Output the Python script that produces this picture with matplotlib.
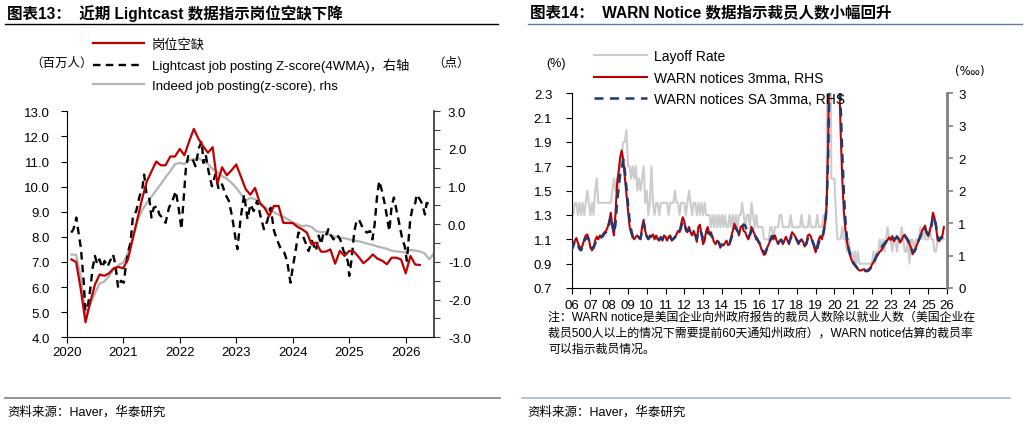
import numpy as np
import matplotlib
matplotlib.use('Agg')
import matplotlib.pyplot as plt
from matplotlib.lines import Line2D
from matplotlib.ticker import MultipleLocator, FixedLocator, FormatStrFormatter

plt.rcParams['font.family'] = ['Liberation Sans', 'Noto Sans CJK SC']
plt.rcParams['axes.unicode_minus'] = False

W, H = 1029, 427

# ---------------- 图表13 data (monthly from Jan 2020, month end) ----------------
openings = [  # 岗位空缺, 百万人
    7.1, 7.0, 5.9, 4.6, 5.4, 6.1, 6.5, 6.45, 6.55, 6.75, 6.8, 6.75,
    7.1, 7.9, 8.7, 9.5, 10.2, 10.6, 11.0, 10.85, 10.85, 11.2, 11.2, 11.5,
    11.25, 11.8, 12.3, 11.9, 11.6, 11.35, 11.57, 10.12, 10.77, 10.45, 10.65, 10.88,
    10.4, 9.9, 9.68, 9.95, 9.36, 9.16, 8.83, 9.23, 9.23, 8.56, 8.55, 8.55,
    8.4, 8.3, 8.17, 7.7, 7.77, 7.41, 7.41, 7.5, 6.93, 7.44, 7.24, 7.44,
    7.41, 7.2, 6.95, 7.1, 7.3, 7.13, 7.05, 6.91, 7.17, 7.17, 7.1, 6.55,
    7.24, 6.9, 6.88,
]
indeed = [  # Indeed job posting z-score, rhs
    -0.80, -0.81, -1.40, -2.43, -2.13, -1.83, -1.57, -1.52, -1.37, -1.20, -1.08, -1.02,
    -0.77, -0.37, 0.07, 0.37, 0.57, 0.73, 0.90, 1.07, 1.25, 1.41, 1.60, 1.63,
    1.60, 1.70, 1.73, 1.75, 1.67, 1.60, 1.47, 1.39, 1.28, 1.21, 1.10, 0.97,
    0.80, 0.63, 0.70, 0.67, 0.53, 0.45, 0.39, 0.32, 0.25, 0.20, 0.13, 0.05,
    0.00, -0.05, -0.03, -0.07, -0.18, -0.21, -0.20, -0.30, -0.33, -0.35, -0.37, -0.40,
    -0.43, -0.45, -0.48, -0.52, -0.55, -0.59, -0.62, -0.65, -0.70, -0.72, -0.73, -0.75,
    -0.68, -0.70, -0.72, -0.77, -0.93, -0.77,
]
# Lightcast job posting Z-score (4WMA), dates as decimal years
lightcast_t = [
    2020.08, 2020.12, 2020.17, 2020.20, 2020.25, 2020.30, 2020.33, 2020.38, 2020.42, 2020.46,
    2020.50, 2020.54, 2020.58, 2020.63, 2020.67, 2020.72, 2020.78, 2020.82, 2020.86, 2020.91,
    2020.96, 2021.01, 2021.05, 2021.09, 2021.13, 2021.17, 2021.23, 2021.29, 2021.34, 2021.37,
    2021.41, 2021.46, 2021.50, 2021.54, 2021.60, 2021.64, 2021.69, 2021.75, 2021.81, 2021.87,
    2021.93, 2021.98, 2022.03, 2022.08, 2022.11, 2022.15, 2022.22, 2022.28, 2022.34, 2022.39,
    2022.42, 2022.46, 2022.51, 2022.57, 2022.63, 2022.69, 2022.75, 2022.81, 2022.87, 2022.93,
    2022.99, 2023.02, 2023.08, 2023.14, 2023.20, 2023.25, 2023.31, 2023.37, 2023.43, 2023.49,
    2023.55, 2023.61, 2023.67, 2023.73, 2023.79, 2023.85, 2023.90, 2023.96, 2024.00, 2024.05,
    2024.10, 2024.17, 2024.23, 2024.28, 2024.34, 2024.41, 2024.46, 2024.50, 2024.55, 2024.60,
    2024.63, 2024.68, 2024.72, 2024.78, 2024.84, 2024.90, 2024.94, 2024.98, 2025.00, 2025.04,
    2025.09, 2025.13, 2025.17, 2025.25, 2025.31, 2025.37, 2025.41, 2025.45, 2025.49, 2025.53,
    2025.58, 2025.63, 2025.68, 2025.71, 2025.75, 2025.79, 2025.84, 2025.90, 2025.94, 2025.98,
    2026.02, 2026.08, 2026.12, 2026.17, 2026.19, 2026.25, 2026.29, 2026.34, 2026.37, 2026.42,
]
lightcast_z = [
    -0.22, -0.13, 0.18, -0.13, -0.62, -1.50, -2.30, -2.12, -1.68, -1.15,
    -0.84, -1.06, -0.93, -1.15, -0.97, -1.13, -0.93, -0.80, -1.06, -1.68,
    -1.50, -1.55, -1.06, -0.71, -0.49, 0.18, 0.35, 0.75, 0.97, 1.32,
    0.84, 0.71, 0.18, 0.44, 0.48, 0.26, 0.18, 0.04, 0.44, 0.62,
    0.88, 0.44, -0.13, 0.88, 1.50, 1.81, 1.76, 1.54, 2.03, 2.20,
    1.63, 1.85, 1.41, 1.01, 1.32, 0.93, 1.06, 0.79, 0.62, 0.18,
    -0.40, -0.66, 0.18, 0.79, 0.13, 0.53, 0.35, 0.62, 0.22, -0.13,
    0.09, 0.44, -0.18, -0.44, -0.66, -0.75, -0.97, -1.55, -1.15, -0.71,
    -0.22, -0.27, -0.50, -0.71, -0.44, -0.71, -0.30, -0.53, -0.20, -0.27,
    -0.13, -0.30, -0.40, -0.27, -0.40, -0.71, -0.80, -1.02, -1.37, -0.95,
    -0.18, 0.09, 0.13, -0.13, -0.22, -0.18, -0.40, 0.00, 0.71, 1.15,
    0.88, 0.53, 0.09, -0.18, 0.48, 0.71, 0.35, -0.09, -0.40, -0.57,
    -0.97, 0.13, 0.44, 0.57, 0.79, 0.66, 0.55, 0.26, 0.57, 0.53,
]
years13 = [2020, 2021, 2022, 2023, 2024, 2025, 2026]

# ---------------- 图表14 data (monthly from Jan 2006) ----------------
layoff_rate = [  # %
    1.4, 1.3, 1.4, 1.4, 1.3, 1.4, 1.3, 1.4, 1.3, 1.4, 1.5, 1.4,
    1.3, 1.4, 1.3, 1.5, 1.6, 1.4, 1.4, 1.4, 1.4, 1.4, 1.4, 1.4,
    1.4, 1.4, 1.5, 1.6, 1.5, 1.6, 1.5, 1.7, 1.8, 1.9, 1.9, 2.0,
    1.7, 1.7, 1.6, 1.7, 1.6, 1.7, 1.5, 1.6, 1.5, 1.6, 1.7, 1.4,
    1.5, 1.3, 1.4, 1.7, 1.4, 1.3, 1.4, 1.4, 1.3, 1.4, 1.4, 1.4,
    1.4, 1.4, 1.3, 1.4, 1.4, 1.4, 1.5, 1.4, 1.4, 1.3, 1.4, 1.4,
    1.4, 1.3, 1.4, 1.5, 1.4, 1.3, 1.4, 1.4, 1.3, 1.4, 1.3, 1.4,
    1.3, 1.4, 1.3, 1.3, 1.3, 1.2, 1.3, 1.2, 1.3, 1.2, 1.3, 1.2,
    1.3, 1.2, 1.3, 1.2, 1.2, 1.3, 1.2, 1.3, 1.2, 1.3, 1.2, 1.3,
    1.3, 1.4, 1.3, 1.2, 1.3, 1.3, 1.2, 1.4, 1.3, 1.2, 1.3, 1.2,
    1.2, 1.2, 1.2, 1.1, 1.1, 1.1, 1.1, 1.2, 1.2, 1.1, 1.2, 1.2,
    1.2, 1.3, 1.3, 1.2, 1.2, 1.2, 1.2, 1.2, 1.3, 1.2, 1.2, 1.2,
    1.2, 1.2, 1.2, 1.3, 1.2, 1.2, 1.2, 1.2, 1.3, 1.2, 1.2, 1.2,
    1.2, 1.3, 1.2, 1.2, 1.2, 1.3, 1.2, 1.3, 7.5, 5.9, 1.6, 1.6,
    1.6, 1.3, 1.1, 1.1, 1.1, 1.2, 1.1, 1.1, 1.0, 1.1, 1.0, 1.0,
    0.9, 1.0, 0.9, 1.0, 0.9, 0.9, 0.9, 0.9, 0.9, 0.9, 0.9, 0.9,
    0.9, 1.0, 0.9, 1.0, 1.0, 1.1, 1.0, 1.1, 1.0, 1.1, 1.2, 1.1,
    1.1, 1.0, 1.1, 1.1, 1.0, 1.1, 1.1, 1.2, 1.1, 1.0, 1.0, 1.1,
    0.9, 1.1, 1.1, 1.0, 1.1, 1.1, 1.1, 1.2, 1.1, 1.2, 1.1, 1.1,
    1.1, 1.2, 1.1, 1.1, 1.0, 1.0, 1.1, 1.1, 1.1, 1.1, 1.1,
]
warn_3mma = [  # ‱, RHS
    0.62, 0.675, 0.73, 0.77, 0.69, 0.64, 0.60, 0.66, 0.75, 0.81, 0.825, 0.75,
    0.62, 0.58, 0.62, 0.73, 0.79, 0.75, 0.81, 0.79, 0.825, 0.86, 0.88, 0.94,
    1.03, 1.16, 0.94, 0.81, 1.14, 1.59, 1.80, 2.01, 2.12, 1.97, 1.70, 1.45,
    1.20, 0.95, 0.85, 0.78, 0.75, 0.79, 0.81, 0.77, 0.75, 0.94, 1.05, 0.88,
    0.79, 0.75, 0.81, 0.79, 0.825, 0.75, 0.81, 0.75, 0.73, 0.79, 0.73, 0.81,
    0.79, 0.73, 0.79, 0.81, 0.73, 0.75, 0.79, 0.825, 0.88, 0.86, 0.99, 1.09,
    1.03, 0.88, 0.86, 0.94, 0.86, 0.81, 0.88, 0.81, 0.71, 0.94, 0.975, 0.825,
    0.675, 0.73, 0.88, 0.94, 0.825, 0.86, 0.79, 0.71, 0.675, 0.73, 0.71, 0.62,
    0.675, 0.66, 0.69, 0.73, 0.66, 0.675, 0.79, 0.88, 0.99, 0.94, 0.88, 0.81,
    0.94, 0.96, 0.88, 0.86, 0.79, 0.75, 0.825, 0.94, 0.88, 0.825, 0.75, 0.73,
    0.71, 0.62, 0.56, 0.51, 0.525, 0.62, 0.675, 0.73, 0.79, 0.75, 0.81, 0.73,
    0.675, 0.73, 0.75, 0.675, 0.73, 0.79, 0.73, 0.675, 0.79, 0.86, 0.825, 0.79,
    0.73, 0.675, 0.73, 0.75, 0.71, 0.64, 0.675, 0.81, 0.825, 0.79, 0.71, 0.64,
    0.55, 0.65, 0.75, 0.80, 0.75, 0.88, 1.01, 1.27, 2.2, 4.0, 8.0, 12.0,
    14.0, 13.0, 10.0, 3.3, 2.4, 1.7, 1.2, 0.9, 0.72, 0.6, 0.5, 0.43,
    0.38, 0.35, 0.32, 0.29, 0.27, 0.27, 0.28, 0.29, 0.27, 0.27, 0.29, 0.31,
    0.36, 0.40, 0.44, 0.48, 0.52, 0.56, 0.58, 0.62, 0.67, 0.70, 0.74, 0.78,
    0.74, 0.80, 0.72, 0.76, 0.80, 0.76, 0.70, 0.74, 0.80, 0.82, 0.76, 0.72,
    0.68, 0.62, 0.52, 0.56, 0.62, 0.68, 0.74, 0.80, 0.88, 0.92, 0.96, 0.84,
    0.80, 0.88, 0.98, 1.16, 1.08, 0.94, 0.74, 0.72, 0.78, 0.80, 0.94,
]
warn_sa_3mma = [  # ‱, RHS
    0.58, 0.65, 0.72, 0.72, 0.66, 0.60, 0.58, 0.64, 0.72, 0.76, 0.78, 0.74,
    0.66, 0.62, 0.62, 0.68, 0.74, 0.76, 0.78, 0.78, 0.80, 0.84, 0.86, 0.90,
    0.98, 1.10, 1.00, 0.84, 0.98, 1.30, 1.55, 1.75, 1.85, 1.98, 1.80, 1.55,
    1.30, 1.05, 0.90, 0.80, 0.76, 0.78, 0.79, 0.78, 0.76, 0.88, 1.00, 0.90,
    0.80, 0.76, 0.78, 0.80, 0.80, 0.77, 0.78, 0.76, 0.75, 0.77, 0.75, 0.78,
    0.78, 0.75, 0.76, 0.78, 0.75, 0.76, 0.78, 0.80, 0.84, 0.86, 0.94, 1.02,
    1.00, 0.92, 0.88, 0.90, 0.86, 0.83, 0.84, 0.82, 0.76, 0.86, 0.90, 0.84,
    0.76, 0.78, 0.84, 0.86, 0.84, 0.82, 0.78, 0.74, 0.71, 0.72, 0.70, 0.66,
    0.66, 0.66, 0.68, 0.70, 0.68, 0.69, 0.76, 0.84, 0.92, 0.92, 0.88, 0.84,
    0.90, 0.94, 0.98, 0.96, 0.88, 0.80, 0.82, 0.88, 0.90, 0.85, 0.78, 0.74,
    0.68, 0.62, 0.58, 0.55, 0.56, 0.62, 0.68, 0.74, 0.80, 0.80, 0.78, 0.74,
    0.70, 0.72, 0.74, 0.70, 0.72, 0.76, 0.74, 0.70, 0.76, 0.82, 0.82, 0.78,
    0.74, 0.70, 0.72, 0.74, 0.72, 0.66, 0.68, 0.76, 0.80, 0.78, 0.72, 0.66,
    0.56, 0.60, 0.70, 0.76, 0.76, 0.84, 0.98, 1.25, 2.0, 3.5, 7.0, 11.0,
    13.0, 13.0, 10.0, 4.0, 2.8, 2.1, 1.5, 1.05, 0.78, 0.62, 0.52, 0.45,
    0.40, 0.36, 0.33, 0.30, 0.29, 0.28, 0.28, 0.27, 0.26, 0.26, 0.27, 0.30,
    0.33, 0.38, 0.44, 0.50, 0.54, 0.58, 0.62, 0.66, 0.68, 0.72, 0.74, 0.76,
    0.76, 0.78, 0.76, 0.76, 0.78, 0.76, 0.74, 0.74, 0.78, 0.80, 0.78, 0.74,
    0.70, 0.62, 0.56, 0.56, 0.60, 0.66, 0.74, 0.80, 0.86, 0.90, 0.92, 0.86,
    0.82, 0.86, 0.94, 1.10, 1.08, 0.96, 0.80, 0.74, 0.76, 0.78, 0.84,
]
year_labels14 = ['06', '07', '08', '09', '10', '11', '12', '13', '14', '15', '16',
                 '17', '18', '19', '20', '21', '22', '23', '24', '25', '26']
rhs_labels14 = ['0', '1', '1', '2', '2', '3', '3']

RED = '#c00000'
NAVY = '#1f3a73'


def fx(x):
    return x / W


def fy(y):
    return 1 - y / H


fig = plt.figure(figsize=(W / 100, H / 100), dpi=100)

# ======================= 图表13 =======================
ax1 = fig.add_axes([fx(66.7), fy(338.3), (434 - 66.7) / W, (338.3 - 112.3) / H])
ax1r = ax1.twinx()

t_month13 = 2020 + (np.arange(len(openings)) + 1) / 12
t_indeed = 2020 + (np.arange(len(indeed)) + 1) / 12

h_gray, = ax1r.plot(t_indeed, indeed, color='#b4b4b4', lw=1.6)
h_dash, = ax1r.plot(lightcast_t, lightcast_z, color='black', lw=1.7, dashes=(3.2, 2.2))
h_red, = ax1.plot(t_month13, openings, color=RED, lw=1.6)
ax1.set_zorder(ax1r.get_zorder() + 1)
ax1.patch.set_visible(False)

ax1.set_xlim(2020, 2026.5)
ax1.set_ylim(4, 13)
ax1r.set_ylim(-3, 3)
ax1.xaxis.set_major_locator(FixedLocator(years13))
ax1.set_xticklabels([str(y) for y in years13])
ax1.yaxis.set_major_locator(MultipleLocator(1))
ax1.yaxis.set_major_formatter(FormatStrFormatter('%.1f'))
ax1r.yaxis.set_major_locator(MultipleLocator(1))
ax1r.yaxis.set_minor_locator(MultipleLocator(0.5))
ax1r.yaxis.set_major_formatter(FormatStrFormatter('%.1f'))

for a in (ax1, ax1r):
    a.spines['top'].set_visible(False)
ax1.spines['right'].set_visible(False)
ax1r.spines['left'].set_visible(False)
ax1r.spines['bottom'].set_visible(False)
ax1r.spines['right'].set_color('#404040')
ax1r.spines['right'].set_linewidth(1.3)
ax1.spines['left'].set_linewidth(0.8)
ax1.spines['bottom'].set_linewidth(0.8)
ax1.tick_params(axis='y', labelsize=9.5, length=4, width=0.8, pad=8)
ax1.tick_params(axis='x', labelsize=9.5, length=4, width=0.8, pad=2)
ax1r.tick_params(axis='y', which='both', labelsize=9.5, length=4, width=0.8, pad=6,
                 color='#404040')

fig.legend([h_red, h_dash, h_gray],
           ['岗位空缺', 'Lightcast job posting Z-score(4WMA)，右轴', 'Indeed job posting(z-score), rhs'],
           loc='upper left', bbox_to_anchor=(fx(93), fy(39)), frameon=False,
           fontsize=9.5, handlelength=3.9, handletextpad=0.55, labelspacing=0.55,
           borderpad=0, borderaxespad=0)

fig.text(fx(30), fy(64), '（百万人）', fontsize=9, va='center', ha='left')
fig.text(fx(432), fy(64), '（点）', fontsize=9, va='center', ha='left')

fig.text(fx(7), fy(14), '图表13：  近期 Lightcast 数据指示岗位空缺下降', fontsize=11.2,
         fontweight='bold', va='center', ha='left')
fig.add_artist(Line2D([fx(5), fx(498)], [fy(24.5), fy(24.5)], transform=fig.transFigure,
                      color='black', lw=1.0))
fig.add_artist(Line2D([fx(5), fx(500)], [fy(399), fy(399)], transform=fig.transFigure,
                      color='#7f7f7f', lw=1.2))
fig.text(fx(7), fy(412), '资料来源：Haver，华泰研究', fontsize=9, va='center', ha='left')

# ======================= 图表14 =======================
ax2 = fig.add_axes([fx(571.7), fy(289), (947 - 571.7) / W, (289 - 94.3) / H])
ax2r = ax2.twinx()

t_month14 = 2006 + np.arange(len(layoff_rate)) / 12
t_warn = 2006 + np.arange(len(warn_3mma)) / 12
t_warn_sa = 2006 + np.arange(len(warn_sa_3mma)) / 12

g_gray, = ax2.plot(t_month14, layoff_rate, color='#cccccc', lw=1.5)
g_red, = ax2r.plot(t_warn, warn_3mma, color=RED, lw=1.5)
g_blue, = ax2r.plot(t_warn_sa, warn_sa_3mma, color=NAVY, lw=1.8, dashes=(3.6, 2.6))

ax2.set_xlim(2006, 2026)
ax2.set_ylim(0.7, 2.3)
ax2r.set_ylim(0, 3)
ax2.set_xticks(np.arange(2006, 2027))
ax2.set_xticklabels(year_labels14)
ax2.set_yticks(np.arange(0.7, 2.31, 0.2))
ax2.yaxis.set_major_formatter(FormatStrFormatter('%.1f'))
ax2r.set_yticks(np.arange(0, 3.01, 0.5))
ax2r.set_yticklabels(rhs_labels14)

for a in (ax2, ax2r):
    a.spines['top'].set_visible(False)
ax2.spines['right'].set_visible(False)
ax2r.spines['left'].set_visible(False)
ax2r.spines['bottom'].set_visible(False)
ax2r.spines['right'].set_color('#808080')
ax2r.spines['right'].set_linewidth(2.0)
ax2.spines['left'].set_linewidth(0.8)
ax2.spines['bottom'].set_linewidth(0.8)
ax2.tick_params(axis='y', labelsize=9.5, length=4, width=0.8, pad=10)
ax2.tick_params(axis='x', labelsize=9.5, length=4, width=0.8, pad=4)
ax2r.tick_params(axis='y', labelsize=9.5, length=4, width=1.2, pad=4, color='#808080')

fig.legend([g_gray, g_red, g_blue],
           ['Layoff Rate', 'WARN notices 3mma, RHS', 'WARN notices SA 3mma, RHS'],
           loc='upper left', bbox_to_anchor=(fx(594), fy(50)), frameon=False,
           fontsize=10, handlelength=3.8, handletextpad=0.55, labelspacing=0.55,
           borderpad=0, borderaxespad=0)

fig.text(fx(546), fy(64), '(%)', fontsize=9, va='center', ha='left')
fig.text(fx(955), fy(71), '(‱)', fontsize=8.5, va='center', ha='left',
         family=['DejaVu Sans', 'Noto Sans', 'Liberation Sans'])

fig.text(fx(530), fy(14), '图表14：  WARN Notice 数据指示裁员人数小幅回升', fontsize=11.2,
         fontweight='bold', va='center', ha='left')
fig.add_artist(Line2D([fx(528), fx(1022)], [fy(24.5), fy(24.5)], transform=fig.transFigure,
                      color='#5a7bab', lw=1.0))

note_lines = ['注：WARN notice是美国企业向州政府报告的裁员人数除以就业人数（美国企业在',
              '裁员500人以上的情况下需要提前60天通知州政府），WARN notice估算的裁员率',
              '可以指示裁员情况。']
for k, line in enumerate(note_lines):
    fig.text(fx(548), fy(318 + 16 * k), line, fontsize=8.6, va='center', ha='left')

fig.add_artist(Line2D([fx(522), fx(1010)], [fy(399), fy(399)], transform=fig.transFigure,
                      color='#aab7cf', lw=1.2))
fig.text(fx(527), fy(412), '资料来源：Haver，华泰研究', fontsize=9, va='center', ha='left')

fig.savefig('out.png', dpi=100)
